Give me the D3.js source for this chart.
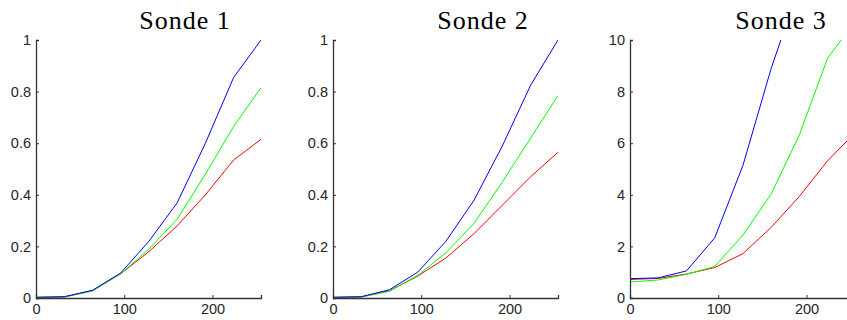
<!DOCTYPE html>
<html><head><meta charset="utf-8">
<script src="https://cdn.jsdelivr.net/npm/d3@7"></script>
<style>body{margin:0;background:#fff}svg{display:block}</style>
</head><body>
<script>
const xs = [0, 32, 64, 96, 128, 160, 192, 224, 255];
const titles = ["Sonde 1", "Sonde 2", "Sonde 3"];
const yMax = [1, 1, 10];
const yTicks1 = [0, 0.2, 0.4, 0.6, 0.8, 1];
const yTicks3 = [0, 2, 4, 6, 8, 10];
const xTicks = [0, 100, 200];
const colors = ["#0000ff", "#00ff00", "#ff0000"];
// panel 1
const s1Blue  = [0.003, 0.005, 0.030, 0.097, 0.220, 0.369, 0.600, 0.855, 1.000];
const s1Green = [0.002, 0.004, 0.027, 0.094, 0.190, 0.305, 0.480, 0.665, 0.815];
const s1Red   = [0.002, 0.004, 0.028, 0.094, 0.180, 0.280, 0.400, 0.535, 0.615];
// panel 2
const s2Blue  = [0.003, 0.005, 0.032, 0.100, 0.220, 0.380, 0.590, 0.825, 1.000];
const s2Green = [0.002, 0.004, 0.026, 0.088, 0.175, 0.290, 0.450, 0.620, 0.785];
const s2Red   = [0.002, 0.004, 0.028, 0.085, 0.155, 0.250, 0.360, 0.470, 0.565];
// panel 3
const s3Blue  = [0.75, 0.78, 1.05, 2.33, 5.14, 8.90, 12.1, 15.5, 19.0];
const s3Green = [0.62, 0.70, 0.92, 1.22, 2.44, 4.03, 6.33, 9.30, 10.7];
const s3Red   = [0.72, 0.76, 0.93, 1.18, 1.72, 2.74, 3.94, 5.32, 6.40];

const panels = [
  {series: [s1Blue, s1Green, s1Red], ticks: yTicks1},
  {series: [s2Blue, s2Green, s2Red], ticks: yTicks1},
  {series: [s3Blue, s3Green, s3Red], ticks: yTicks3}
];

const W = 847, H = 320;
const svg = d3.select("body").append("svg").attr("width", W).attr("height", H);
const lefts = [36, 333, 630];
const plotTop = 40, plotBottom = 298, pw = 225;
const titleX = [185, 483, 781];

panels.forEach((p, i) => {
  const x = d3.scaleLinear().domain([0, 255]).range([lefts[i], lefts[i] + pw]);
  const y = d3.scaleLinear().domain([0, yMax[i]]).range([plotBottom, plotTop]);
  const g = svg.append("g");
  const cid = "clip" + i;
  g.append("clipPath").attr("id", cid).append("rect")
    .attr("x", lefts[i]).attr("y", plotTop).attr("width", pw).attr("height", plotBottom - plotTop);

  const line = d3.line().x((d, j) => x(xs[j])).y(d => y(d));
  const lg = g.append("g").attr("clip-path", `url(#${cid})`);
  [2, 1, 0].forEach(k => {
    lg.append("path").datum(p.series[k]).attr("d", line)
      .attr("fill", "none").attr("stroke", colors[k]).attr("stroke-width", 1);
  });

  const fmt = yMax[i] === 1 ? (d => d === 0 ? "0" : d === 1 ? "1" : d3.format(".1f")(d)) : d3.format("d");
  const ya = g.append("g").attr("transform", `translate(${lefts[i]},0)`)
    .call(d3.axisLeft(y).tickValues(p.ticks).tickFormat(fmt).tickSize(-3).tickPadding(5));
  const xa = g.append("g").attr("transform", `translate(0,${plotBottom})`)
    .call(d3.axisBottom(x).tickValues(xTicks).tickFormat(d3.format("d")).tickSize(-3).tickPadding(6));
  [ya, xa].forEach(a => {
    a.select(".domain").attr("stroke", "#333").attr("stroke-width", 1.3);
    a.selectAll(".tick line").attr("stroke", "#333");
    a.selectAll("text").attr("fill", "#262626")
      .style("font-family", "'Liberation Sans', Arial, sans-serif").style("font-size", "14.5px");
  });

  g.append("text").attr("x", titleX[i]).attr("y", 29).attr("text-anchor", "middle")
    .style("font-family", "'Liberation Serif', 'DejaVu Serif', serif").style("font-size", "26px")
    .style("letter-spacing", "1px")
    .attr("fill", "#000").text(titles[i]);
});
</script>
</body></html>
